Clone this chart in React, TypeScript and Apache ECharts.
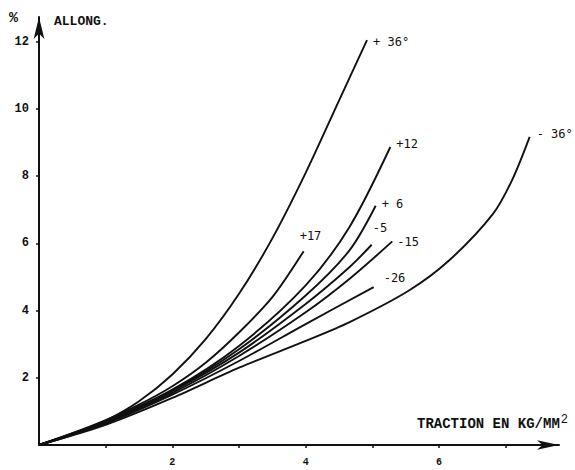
import React, { useEffect, useRef } from "react";
import * as echarts from "echarts";

// Curves: traction (kg/mm²) vs allongement (%)
const plus36X = [0, 0.5, 1, 1.5, 2, 2.5, 3, 3.5, 4, 4.5, 4.92];
const plus36Y = [0, 0.3, 0.72, 1.3, 2.1, 3.15, 4.5, 6.15, 8.1, 10.25, 12.05];
const plus17X = [0, 0.5, 1, 1.5, 2, 2.5, 3, 3.5, 3.97];
const plus17Y = [0, 0.35, 0.74, 1.2, 1.75, 2.45, 3.35, 4.4, 5.77];
const plus12X = [0, 1, 2, 3, 4, 4.66, 5.27];
const plus12Y = [0, 0.72, 1.65, 2.95, 4.75, 6.5, 8.87];
const plus6X = [0, 1, 2, 3, 4, 4.66, 5.05];
const plus6Y = [0, 0.7, 1.62, 2.85, 4.45, 5.8, 7.12];
const minus5X = [0, 1, 2, 3, 4, 4.66, 4.99];
const minus5Y = [0, 0.68, 1.6, 2.75, 4.2, 5.3, 5.96];
const minus15X = [0, 1, 2, 3, 4, 4.66, 5.3];
const minus15Y = [0, 0.66, 1.55, 2.65, 3.95, 4.95, 6.06];
const minus26X = [0, 1, 2, 3, 4, 5.02];
const minus26Y = [0, 0.64, 1.5, 2.5, 3.6, 4.7];
const minus36X = [0, 1, 2, 3, 4, 4.66, 5.55, 6.15, 6.81, 7.1, 7.36];
const minus36Y = [0, 0.6, 1.4, 2.3, 3.1, 3.66, 4.6, 5.49, 6.88, 7.9, 9.17];

const seriesNames = ["+ 36°", "+17", "+12", "+ 6", "-5", "-15", "-26", "- 36°"];
const xTicks = [1, 2, 3, 4, 5, 6, 7];
const xLabels = [2, 4, 6];
const yTicks = [2, 4, 6, 8, 10, 12];

const labelOffsets: [number, number][] = [
  [-2, 2],
  [-12, -15],
  [-2, -3],
  [-2, -2],
  [-7, -17],
  [-3, 1],
  [2, -9],
  [-1, -3],
];

const zip = (xs: number[], ys: number[]) => xs.map((x, i) => [x, ys[i]]);

export default function App() {
  const ref = useRef<HTMLDivElement>(null);
  useEffect(() => {
    if (!ref.current) return;
    const chart = echarts.init(ref.current, null, { renderer: "svg" });
    const curves = [
      zip(plus36X, plus36Y),
      zip(plus17X, plus17Y),
      zip(plus12X, plus12Y),
      zip(plus6X, plus6Y),
      zip(minus5X, minus5Y),
      zip(minus15X, minus15Y),
      zip(minus26X, minus26Y),
      zip(minus36X, minus36Y),
    ];
    const font = "'Liberation Mono', 'DejaVu Sans Mono', monospace";
    chart.setOption({
      animation: false,
      backgroundColor: "#fff",
      grid: { left: 39, right: 16, top: 17, bottom: 25, containLabel: false },
      xAxis: {
        type: "value",
        min: 0,
        max: 7.8,
        interval: 1,
        splitLine: { show: false },
        axisLine: {
          show: true,
          lineStyle: { color: "#111", width: 2 },
          symbol: ["none", "arrow"],
          symbolSize: [7, 22],
        },
        axisTick: {
          show: true,
          length: 3,
          lineStyle: { color: "#111", width: 1.5 },
          customValues: xTicks,
        },
        axisLabel: {
          customValues: xLabels,
          color: "#111",
          fontFamily: font,
          fontWeight: "bold",
          fontSize: 10,
          margin: 12,
        },
      },
      yAxis: {
        type: "value",
        min: 0,
        max: 12.74,
        interval: 2,
        splitLine: { show: false },
        axisLine: {
          show: true,
          lineStyle: { color: "#111", width: 2 },
          symbol: ["none", "arrow"],
          symbolSize: [8, 22],
        },
        axisTick: {
          show: true,
          length: 3,
          lineStyle: { color: "#111", width: 1.5 },
          customValues: yTicks,
        },
        axisLabel: {
          customValues: yTicks,
          color: "#111",
          fontFamily: font,
          fontWeight: "bold",
          fontSize: 12,
          margin: 10,
        },
      },
      graphic: [
        {
          type: "text",
          left: 9,
          top: 11,
          style: { text: "%", fontSize: 15, fontWeight: "bold", fontFamily: font, fill: "#111" },
        },
        {
          type: "text",
          left: 54,
          top: 15,
          style: { text: "ALLONG.", fontSize: 13, fontWeight: "bold", fontFamily: font, fill: "#111" },
        },
        {
          type: "text",
          left: 417,
          top: 414,
          style: {
            text: "{a|TRACTION EN KG/MM}{b|2}",
            fontFamily: font,
            fill: "#111",
            rich: {
              a: { fontSize: 14, fontWeight: "bold", fontFamily: font, color: "#111" },
              b: { fontSize: 12, fontFamily: font, verticalAlign: "top", padding: [0, 0, 8, 1], color: "#111" },
            },
          },
        },
      ],
      series: curves.map((d, i) => ({
        type: "line",
        name: seriesNames[i],
        data: d,
        showSymbol: false,
        smooth: 0.3,
        lineStyle: { color: "#111", width: 1.9 },
        endLabel: {
          show: true,
          formatter: seriesNames[i],
          offset: labelOffsets[i],
          color: "#111",
          fontFamily: "'DejaVu Sans Mono', monospace",
          fontSize: 12,
        },
      })),
    });
    return () => chart.dispose();
  }, []);
  return (
    <div
      ref={ref}
      style={{ position: "fixed", left: 0, top: 0, width: 575, height: 470 }}
    />
  );
}
